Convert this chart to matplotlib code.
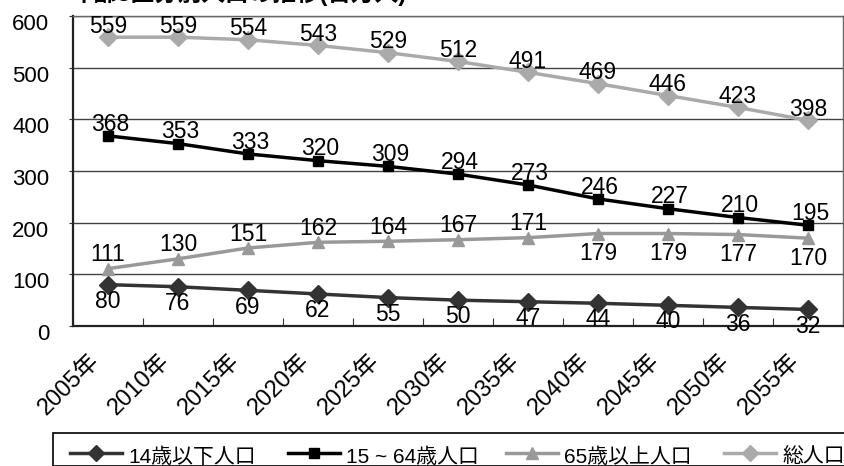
import numpy as np
import matplotlib
matplotlib.use("Agg")
import matplotlib.pyplot as plt
from matplotlib.lines import Line2D
from matplotlib.patches import Rectangle
from matplotlib.transforms import offset_copy, ScaledTranslation

plt.rcParams['font.family'] = ['Liberation Sans', 'Noto Sans CJK JP', 'DejaVu Sans']

years = ['2005年', '2010年', '2015年', '2020年', '2025年', '2030年',
         '2035年', '2040年', '2045年', '2050年', '2055年']
under14 = [80, 76, 69, 62, 55, 50, 47, 44, 40, 36, 32]
age15_64 = [368, 353, 333, 320, 309, 294, 273, 246, 227, 210, 195]
over65 = [111, 130, 151, 162, 164, 167, 171, 179, 179, 177, 170]
total = [559, 559, 554, 543, 529, 512, 491, 469, 446, 423, 398]

series_names = ['14歳以下人口', '15 ~ 64歳人口', '65歳以上人口', '総人口']
series_colors = ['#333333', '#000000', '#999999', '#aaaaaa']
series_markers = ['D', 's', '^', 'D']
series_ms = [9, 7.5, 9, 9]

W, H = 845, 466
fig = plt.figure(figsize=(W / 100, H / 100), dpi=100)
ax = fig.add_axes([73 / W, 1 - 326 / H, 770 / W, 310 / H])

x = np.arange(len(years))
data = [under14, age15_64, over65, total]
zorders = [3, 4, 3, 3]
for vals, c, m, ms, z in zip(data, series_colors, series_markers, series_ms, zorders):
    ax.plot(x, vals, color=c, lw=2.5, marker=m, ms=ms, zorder=z)

fs = 16.5
for i in x:
    ax.annotate(str(total[i]), (i, total[i]), xytext=(0, 8), textcoords='offset points',
                ha='center', va='center', fontsize=fs)
    ax.annotate(str(age15_64[i]), (i, age15_64[i]), xytext=(1.5, 8.5), textcoords='offset points',
                ha='center', va='center', fontsize=fs)
    dy = 10 if i < 7 else -14.5
    ax.annotate(str(over65[i]), (i, over65[i]), xytext=(0, dy), textcoords='offset points',
                ha='center', va='center', fontsize=fs)
    ax.annotate(str(under14[i]), (i, under14[i]), xytext=(0, -12), textcoords='offset points',
                ha='center', va='center', fontsize=fs)

ax.set_xlim(-0.5, len(years) - 0.5)
ax.set_ylim(0, 600)
ax.set_yticks(range(0, 601, 100))
ax.tick_params(axis='y', labelsize=16, direction='out', length=3, pad=14, color='#333333')
for lab in ax.get_yticklabels():
    lab.set_transform(lab.get_transform() + ScaledTranslation(0, -6 / 100, fig.dpi_scale_trans))
ax.yaxis.grid(True, color='#444444', lw=1)
ax.set_axisbelow(True)

ax.set_xticks(np.arange(len(years) + 1) - 0.5)
ax.set_xticklabels([])
ax.tick_params(axis='x', direction='in', length=6, color='#333333')
for i, lab in enumerate(years):
    tr = offset_copy(ax.get_xaxis_transform(), fig=fig, x=-20, y=-24, units='dots')
    ax.text(i, 0, lab, transform=tr, rotation=45, ha='right', va='top',
            rotation_mode='anchor', fontsize=17)

for side in ['left', 'bottom']:
    ax.spines[side].set_color('#222222')
    ax.spines[side].set_linewidth(1.6)
for side in ['top', 'right']:
    ax.spines[side].set_color('#666666')
    ax.spines[side].set_linewidth(1)

# title, cut off at the top edge as in the source
fig.text(70 / W, 1 + 7 / H, '年齢3区分別人口の推移(百万人)', fontsize=17,
         ha='left', va='center', fontweight='bold')

# legend box, running past the figure edge
fig.patches.append(Rectangle((53 / W, 0), 900 / W, 1 - 433 / H,
                             transform=fig.transFigure, fill=False,
                             edgecolor='black', lw=1.2))
leg_y = 1 - 453 / H
for k in range(4):
    x0 = 70 + 218 * k
    fig.add_artist(Line2D([x0 / W, (x0 + 52) / W], [leg_y, leg_y], color=series_colors[k],
                          lw=2.5, transform=fig.transFigure))
    fig.add_artist(Line2D([(x0 + 26) / W], [leg_y], color=series_colors[k], lw=0,
                          marker=series_markers[k], ms=series_ms[k] - 1,
                          transform=fig.transFigure))
    fig.text((x0 + 58) / W, 1 - 457 / H, series_names[k], fontsize=15,
             ha='left', va='center')

fig.savefig('out.png', dpi=100)
